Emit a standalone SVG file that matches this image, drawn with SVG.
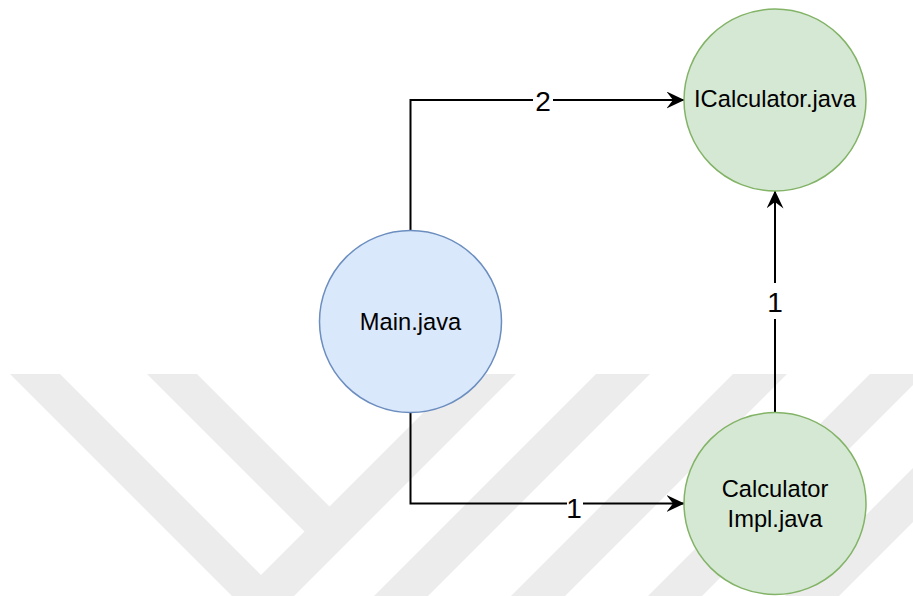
<svg xmlns="http://www.w3.org/2000/svg" width="913" height="596" viewBox="0 0 913 596">
  <style>
    .wm { fill: #ececec; stroke: none; }
    .blue { fill: #dae8fc; stroke: #6c8ebf; stroke-width: 1.5; }
    .green { fill: #d5e8d4; stroke: #82b366; stroke-width: 1.5; }
    .node-text { font-family: "Liberation Sans", Arial, sans-serif; font-size: 23.7px; fill: #000000; text-anchor: middle; }
    .edge { fill: none; stroke: #000000; stroke-width: 2; }
    .lbl-bg { fill: #ffffff; stroke: none; }
    .lbl { font-family: "Liberation Sans", Arial, sans-serif; font-size: 28px; fill: #000000; text-anchor: middle; }
  </style>
  <defs>
    <marker id="arrow" viewBox="0 0 18 17" refX="17.5" refY="8.5" markerWidth="18" markerHeight="17" markerUnits="userSpaceOnUse" orient="auto">
      <path d="M0,0 L18,8.5 L0,17 L6.5,8.5 Z" fill="#000000"/>
    </marker>
    <clipPath id="wmclip"><rect x="0" y="374" width="913" height="222"/></clipPath>
  </defs>
  <rect x="0" y="0" width="913" height="596" fill="#ffffff"/>
  <g id="watermark" clip-path="url(#wmclip)">
    <polygon class="wm" points="10,374 60,374 282,596 232,596"/>
    <polygon class="wm" points="147,374 197,374 331.5,508.5 306.5,533.5"/>
    <polygon class="wm" points="462,374 516,374 294,596 240,596"/>
    <polygon class="wm" points="596,374 650,374 428,596 374,596"/>
    <polygon class="wm" points="733,374 787,374 565,596 511,596"/>
    <polygon class="wm" points="870,374 924,374 702,596 648,596"/>
    <polygon class="wm" points="1007,374 1061,374 839,596 785,596"/>
  </g>
  <g id="connectors">
    <path class="edge" d="M410.5,231 V100 H684" marker-end="url(#arrow)"/>
    <path class="edge" d="M410.5,412.5 V503.5 H684" marker-end="url(#arrow)"/>
    <path class="edge" d="M775,412.5 V191" marker-end="url(#arrow)"/>
    <rect class="lbl-bg" x="533" y="84" width="20" height="34"/>
    <text class="lbl" x="543" y="110.5">2</text>
    <rect class="lbl-bg" x="567" y="487" width="16" height="34"/>
    <text class="lbl" x="574" y="517.5">1</text>
    <rect class="lbl-bg" x="762" y="283" width="26" height="36"/>
    <text class="lbl" x="775" y="311.5">1</text>
  </g>
  <g id="node-main">
    <circle class="blue" cx="410.5" cy="321.5" r="91"/>
    <text class="node-text" x="410.5" y="329.5">Main.java</text>
  </g>
  <g id="node-icalculator">
    <circle class="green" cx="775" cy="100" r="91"/>
    <text class="node-text" x="775" y="107">ICalculator.java</text>
  </g>
  <g id="node-calculatorimpl">
    <circle class="green" cx="775" cy="503.5" r="91"/>
    <text class="node-text" x="775" y="496.5">Calculator</text>
    <text class="node-text" x="775" y="527">Impl.java</text>
  </g>
</svg>
